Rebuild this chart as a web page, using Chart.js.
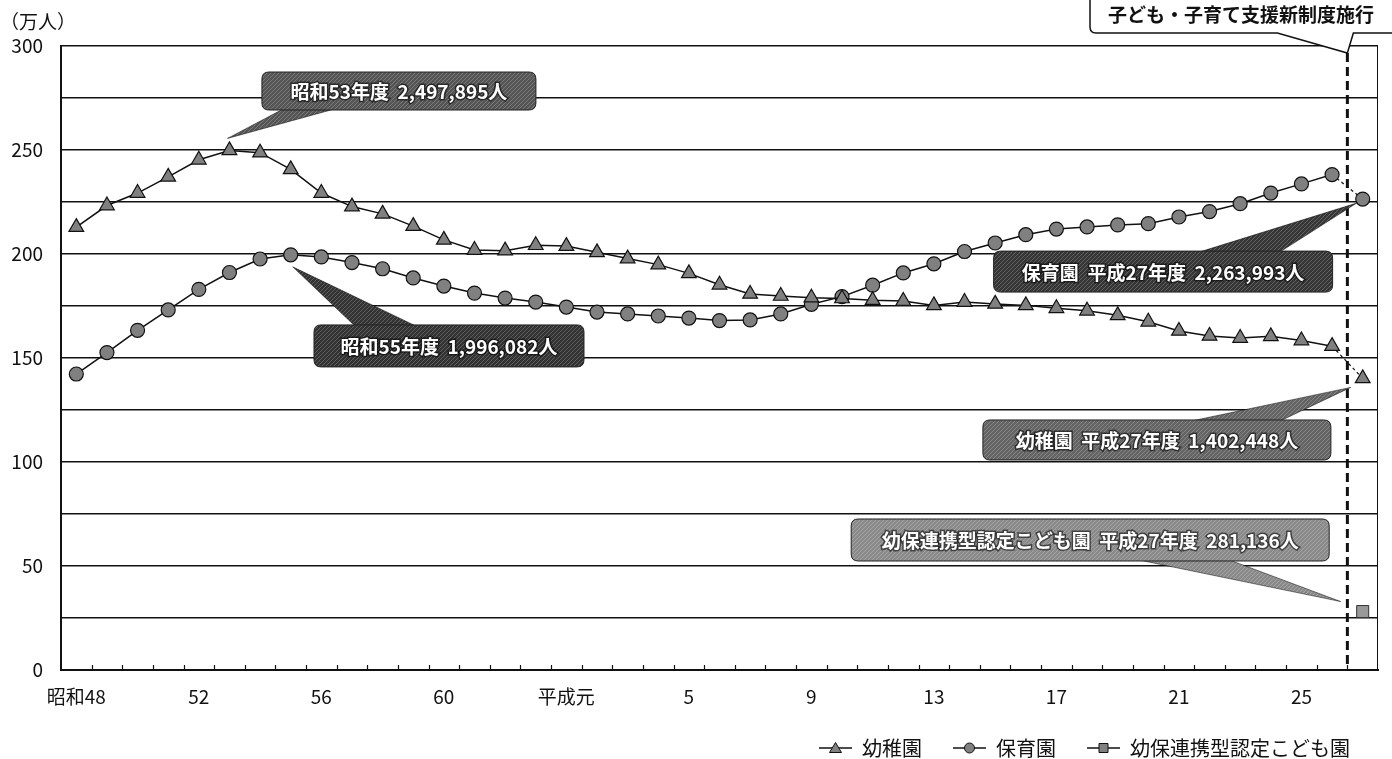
<!DOCTYPE html>
<html><head><meta charset="utf-8">
<script src="https://cdn.jsdelivr.net/npm/chart.js@4.4.1/dist/chart.umd.min.js"></script>
<style>html,body{margin:0;padding:0;background:#fff}canvas{display:block}</style>
</head><body>
<canvas id="c" width="1392" height="759"></canvas>
<script>
// ---- data ----
const categories = ['昭和48','昭和49','昭和50','昭和51','昭和52','昭和53','昭和54','昭和55','昭和56','昭和57','昭和58','昭和59','昭和60','昭和61','昭和62','昭和63',
  '平成元','平成2','平成3','平成4','平成5','平成6','平成7','平成8','平成9','平成10','平成11','平成12','平成13','平成14','平成15','平成16','平成17','平成18','平成19','平成20','平成21','平成22','平成23','平成24','平成25','平成26','平成27'];
const tickLabels = ['昭和48','52','56','60','平成元','5','9','13','17','21','25'];
const youchienValues = [212.9,223.3,229.3,237.1,245.3,249.8,248.7,240.7,229.3,222.8,
  219.3,213.4,206.8,201.9,201.6,204.2,203.8,200.8,197.8,194.9,
  190.7,185.2,180.8,179.8,179.0,178.6,177.8,177.4,175.3,176.9,
  176.0,175.3,173.9,172.7,170.5,167.4,163.0,160.6,159.6,160.4,
  158.4,155.7,140.2];
const hoikuenValues = [142.3,152.6,163.3,173.1,183.0,191.1,197.6,199.6,198.6,195.9,
  192.9,188.5,184.6,181.2,178.8,176.9,174.5,172.1,171.2,170.2,
  169.2,168.0,168.3,171.2,175.8,179.5,185.0,190.9,195.3,201.2,
  205.3,209.3,212.0,213.0,214.0,214.6,217.8,220.4,224.2,229.3,
  233.7,238.2,226.4];
const kodomoenCategory = '平成27';
const kodomoenValue = 28.1;
const seriesNames = ['幼稚園','保育園','幼保連携型認定こども園'];
const calloutTexts = ['昭和53年度  2,497,895人','昭和55年度  1,996,082人','保育園  平成27年度  2,263,993人','幼稚園  平成27年度  1,402,448人','幼保連携型認定こども園  平成27年度  281,136人'];
const policyText = '子ども・子育て支援新制度施行';
const unitText = '（万人）';

// ---- style ----
const FONT = '"Noto Sans CJK JP","Noto Sans",sans-serif';
const lastIdx = categories.length - 1;
const markerFill = '#808080';
const ink = '#111';
const ICON_W = 36, ICON_PAD = 3;

function legendIcon(shape){
  const cv = document.createElement('canvas'); cv.width = ICON_W; cv.height = 14;
  const g = cv.getContext('2d');
  const o = ICON_PAD, m = (o + ICON_W) / 2;
  g.strokeStyle = ink; g.lineWidth = 1.3;
  g.beginPath(); g.moveTo(o,7); g.lineTo(ICON_W,7); g.stroke();
  g.fillStyle = markerFill; g.lineWidth = 1;
  g.beginPath();
  if (shape === 'triangle'){ g.moveTo(m,1.5); g.lineTo(m+6,11.5); g.lineTo(m-6,11.5); g.closePath(); }
  else if (shape === 'circle'){ g.arc(m,7,5,0,Math.PI*2); }
  else { g.rect(m-4.5,2.5,9,9); }
  g.fill(); g.stroke();
  return cv;
}
const legendIcons = [legendIcon('triangle'), legendIcon('circle'), legendIcon('rect')];

function hatch(ctx, base){
  const p = document.createElement('canvas'); p.width = p.height = 4;
  const g = p.getContext('2d');
  g.fillStyle = base; g.fillRect(0,0,4,4);
  g.fillStyle = 'rgba(255,255,255,0.22)';
  g.fillRect(0,3,1,1); g.fillRect(1,2,1,1); g.fillRect(2,1,1,1); g.fillRect(3,0,1,1);
  return ctx.createPattern(p,'repeat');
}
function rr(ctx,x,y,w,h,r){
  ctx.beginPath();
  ctx.moveTo(x+r,y); ctx.lineTo(x+w-r,y); ctx.quadraticCurveTo(x+w,y,x+w,y+r);
  ctx.lineTo(x+w,y+h-r); ctx.quadraticCurveTo(x+w,y+h,x+w-r,y+h);
  ctx.lineTo(x+r,y+h); ctx.quadraticCurveTo(x,y+h,x,y+h-r);
  ctx.lineTo(x,y+r); ctx.quadraticCurveTo(x,y,x+r,y); ctx.closePath();
}

// callouts: box anchored in data space (category index, value), size in px; tip offset from a data point
const callouts = [
  {text:calloutTexts[0], fill:'#555', bx:6.06, bv:287.5, w:274, h:38, tipIdx:5, tipVal:youchienValues[5], dx:-2, dy:-12, side:'bottom', a:25, b:80},
  {text:calloutTexts[1], fill:'#333', bx:7.76, bv:165.9, w:270, h:42, tipIdx:7, tipVal:hoikuenValues[7], dx:2, dy:12, side:'top', a:43, b:106},
  {text:calloutTexts[2], fill:'#363636', bx:29.95, bv:201.4, w:339, h:41, tipIdx:lastIdx, tipVal:hoikuenValues[lastIdx], dx:-6, dy:4, side:'top', a:199, b:283},
  {text:calloutTexts[3], fill:'#646464', bx:29.6, bv:120.2, w:348, h:40, tipIdx:lastIdx, tipVal:youchienValues[lastIdx], dx:-12, dy:9, side:'top', a:199, b:293},
  {text:calloutTexts[4], fill:'#8a8a8a', bx:25.3, bv:72.6, w:478, h:42, tipIdx:lastIdx, tipVal:kodomoenValue, dx:-22, dy:-10, side:'bottom', a:278, b:373}
];

const decor = {
  id:'decor',
  beforeDatasetsDraw(chart){
    const {ctx, chartArea:ca} = chart;
    ctx.save();
    ctx.strokeStyle = ink; ctx.lineWidth = 1;
    ctx.beginPath(); ctx.moveTo(ca.right-0.5, ca.top); ctx.lineTo(ca.right-0.5, ca.bottom); ctx.stroke();
    const cw = (ca.right-ca.left)/categories.length;
    ctx.lineWidth = 1.2;
    for (let i=1;i<categories.length;i++){
      const px = Math.round(ca.left + i*cw)+0.5;
      ctx.beginPath(); ctx.moveTo(px, ca.bottom); ctx.lineTo(px, ca.bottom-5); ctx.stroke();
    }
    ctx.restore();
  },
  afterDatasetsDraw(chart){
    const {ctx, chartArea:ca, scales:{x,y}} = chart;
    const cw = (ca.right-ca.left)/categories.length;
    ctx.save();
    // policy line
    const lx = x.getPixelForValue(lastIdx) - cw/2;
    const tipY = ca.top + 7;
    ctx.strokeStyle = ink; ctx.lineWidth = 3; ctx.setLineDash([9,5]);
    ctx.beginPath(); ctx.moveTo(lx, tipY); ctx.lineTo(lx, ca.bottom); ctx.stroke();
    ctx.setLineDash([]);
    // policy callout box
    const pbx = 1090, pby = -12, pbw = 320, pbh = 45;
    ctx.fillStyle = '#fff'; ctx.strokeStyle = ink; ctx.lineWidth = 1.5;
    ctx.beginPath();
    ctx.moveTo(pbx+6, pby); ctx.lineTo(pbx+pbw, pby); ctx.lineTo(pbx+pbw, pby+pbh);
    ctx.lineTo(lx+6, pby+pbh); ctx.lineTo(lx, tipY); ctx.lineTo(lx-70, pby+pbh);
    ctx.lineTo(pbx+6, pby+pbh); ctx.quadraticCurveTo(pbx, pby+pbh, pbx, pby+pbh-6);
    ctx.lineTo(pbx, pby); ctx.closePath();
    ctx.fill(); ctx.stroke();
    ctx.fillStyle = ink; ctx.font = 'bold 19px '+FONT; ctx.textAlign='center'; ctx.textBaseline='middle';
    ctx.fillText(policyText, 1241, 15);
    // data callouts
    for (const c of callouts){
      const bxp = x.getPixelForValue(c.bx), byp = y.getPixelForValue(c.bv);
      const tx = x.getPixelForValue(c.tipIdx) + c.dx, ty = y.getPixelForValue(c.tipVal) + c.dy;
      const pat = hatch(ctx, c.fill);
      const edge = c.side === 'bottom' ? byp + c.h - 3 : byp + 3;
      ctx.fillStyle = pat;
      ctx.beginPath(); ctx.moveTo(bxp+c.a, edge); ctx.lineTo(tx, ty); ctx.lineTo(bxp+c.b, edge); ctx.closePath();
      ctx.fill();
      ctx.strokeStyle = 'rgba(0,0,0,0.6)'; ctx.lineWidth = 0.8; ctx.stroke();
      rr(ctx, bxp, byp, c.w, c.h, 7);
      ctx.fillStyle = pat; ctx.fill();
      ctx.strokeStyle = '#222'; ctx.lineWidth = 1; ctx.stroke();
      ctx.font = 'bold 19px '+FONT; ctx.textAlign='center'; ctx.textBaseline='middle';
      ctx.lineWidth = 3; ctx.strokeStyle = 'rgba(0,0,0,0.55)';
      ctx.strokeText(c.text, bxp + c.w/2, byp + c.h/2 + 1);
      ctx.fillStyle = '#fff';
      ctx.fillText(c.text, bxp + c.w/2, byp + c.h/2 + 1);
    }
    ctx.restore();
  },
  afterDraw(chart){
    const ctx = chart.ctx;
    ctx.save();
    ctx.fillStyle = ink; ctx.font = '19px '+FONT; ctx.textAlign='left'; ctx.textBaseline='middle';
    ctx.fillText(unitText, 0, 22);
    ctx.restore();
  }
};

const lastSeg = {
  borderDash: c => c.p1DataIndex === lastIdx ? [3,3] : undefined,
  borderWidth: c => c.p1DataIndex === lastIdx ? 1.2 : undefined
};

new Chart(document.getElementById('c'), {
  type:'line',
  data:{
    labels: categories,
    datasets:[
      {label:seriesNames[0], data:youchienValues, borderColor:ink, borderWidth:1.5, pointStyle:'triangle', pointRadius:8.5,
       pointBackgroundColor:markerFill, pointBorderColor:ink, pointBorderWidth:1.2, segment:lastSeg},
      {label:seriesNames[1], data:hoikuenValues, borderColor:ink, borderWidth:1.5, pointStyle:'circle', pointRadius:7,
       pointBackgroundColor:markerFill, pointBorderColor:ink, pointBorderWidth:1.2, segment:lastSeg},
      {label:seriesNames[2], data:[{x:kodomoenCategory, y:kodomoenValue}], borderColor:ink, borderWidth:1.5, pointStyle:'rect', pointRadius:8.5,
       pointBackgroundColor:'#999', pointBorderColor:'#333', pointBorderWidth:1}
    ]
  },
  options:{
    responsive:false, animation:false,
    layout:{padding:{top:46, right:14, bottom:-9, left:0}},
    scales:{
      x:{type:'category', offset:true,
        grid:{display:false, drawTicks:false},
        border:{display:true, color:ink, width:2},
        ticks:{autoSkip:false, maxRotation:0, minRotation:0, padding:15, color:ink, font:{size:19, family:FONT},
          callback:(v,i)=> i%4===0 ? tickLabels[i/4] : ''},
        afterFit:s=>{ s.height = 40; }
      },
      y:{min:0, max:300,
        grid:{color:ink, lineWidth:1.5, drawTicks:false},
        border:{display:true, color:ink, width:2},
        ticks:{stepSize:25, padding:18, color:ink, font:{size:19, family:FONT},
          callback:v=> v%50===0 ? v : ''},
        afterFit:s=>{ s.width = 61; }
      }
    },
    plugins:{
      tooltip:{enabled:false},
      legend:{position:'bottom', align:'end',
        labels:{usePointStyle:true, pointStyleWidth:ICON_W, color:ink, padding:28, font:{size:20, family:FONT},
          generateLabels(chart){
            const items = Chart.defaults.plugins.legend.labels.generateLabels(chart);
            items.forEach((it,i)=>{ it.pointStyle = legendIcons[i]; });
            return items;
          }}
      }
    }
  },
  plugins:[decor]
});
</script>
</body></html>
